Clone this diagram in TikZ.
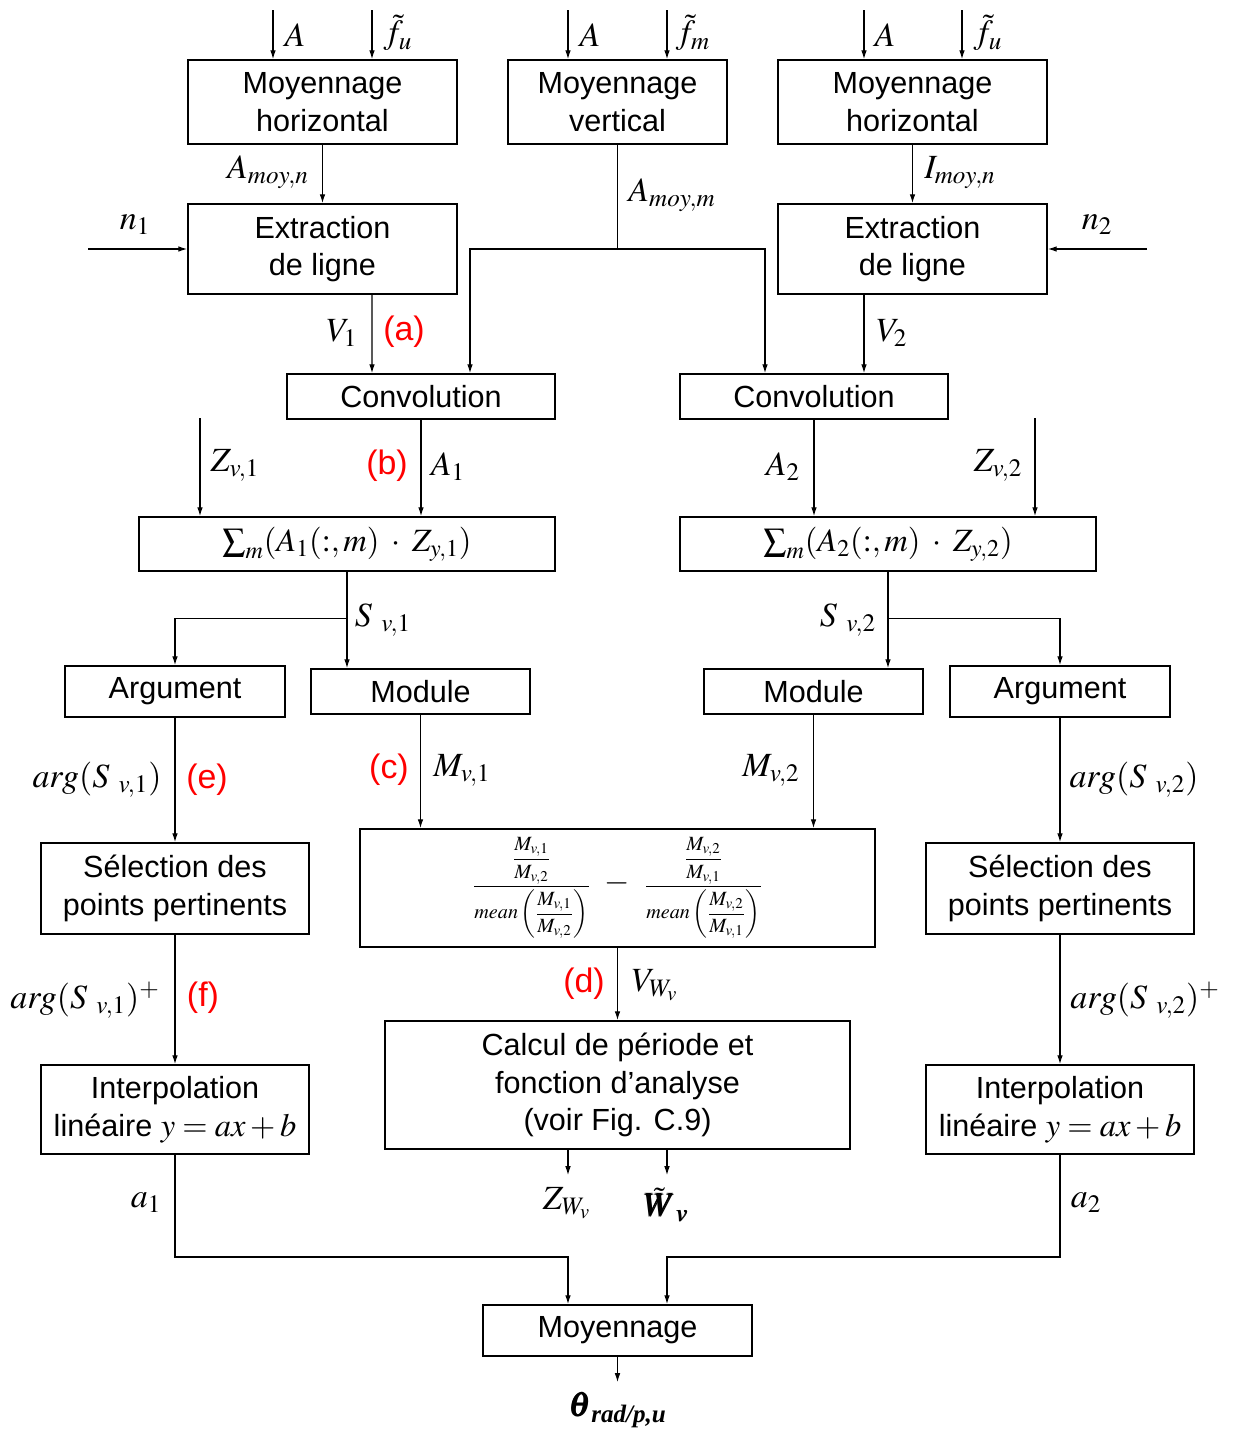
\documentclass[tikz,border=0pt]{standalone}
\usepackage{amsmath}
\usepackage{mathptmx}
\usepackage{bm}
\usepackage{fontspec}
\setmainfont{Liberation Sans}
\newfontfamily\serifbi{Liberation Serif}
\newcommand{\grand}{\fontsize{18.5}{21.5}\selectfont}
\newcommand{\petit}{\fontsize{11.5}{13}\selectfont}
\usetikzlibrary{arrows.meta,calc}

\begin{document}
\begin{tikzpicture}[x=0.02cm, y=-0.02cm,
    font=\fontsize{17.4}{21.5}\selectfont,
    bloc/.style={draw, line width=1.1pt, align=center, inner sep=0pt},
    fleche/.style={-{Latex[length=5pt,width=3.2pt]}, line width=0.6pt},
    trait/.style={line width=0.6pt},
    etiq/.style={inner sep=0pt, font=\fontsize{19.3}{23}\selectfont},
    rouge/.style={etiq, text=red}]
    \useasboundingbox (0,0) rectangle (1239,1431);

    % Blocs du haut
    \node[bloc, minimum width=5.38cm, minimum height=1.68cm] (mh1) at (322.5,102) {Moyennage\\horizontal};
    \node[bloc, minimum width=4.38cm, minimum height=1.68cm] (mv) at (617.5,102) {Moyennage\\vertical};
    \node[bloc, minimum width=5.38cm, minimum height=1.68cm] (mh2) at (912.5,102) {Moyennage\\horizontal};
    \node[bloc, minimum width=5.38cm, minimum height=1.80cm] (el1) at (322.5,249) {Extraction\\de ligne};
    \node[bloc, minimum width=5.38cm, minimum height=1.80cm] (el2) at (912.5,249) {Extraction\\de ligne};
    \node[bloc, minimum width=5.36cm, minimum height=0.90cm] (conv1) at (421,396.5) {Convolution};
    \node[bloc, minimum width=5.36cm, minimum height=0.90cm] (conv2) at (814,396.5) {Convolution};
    \node[bloc, minimum width=8.32cm, minimum height=1.08cm] (sum1) at (347,544) {\grand$\sum_m(A_1(:,m)\;\cdot\;Z_{y,1})$};
    \node[bloc, minimum width=8.32cm, minimum height=1.08cm] (sum2) at (888,544) {\grand$\sum_m(A_2(:,m)\;\cdot\;Z_{y,2})$};

    % Blocs du milieu
    \node[bloc, minimum width=4.40cm, minimum height=1.02cm] (arg1) at (175,691.5) {Argument};
    \node[bloc, minimum width=4.38cm, minimum height=0.90cm] (mod1) at (420.5,691.5) {Module};
    \node[bloc, minimum width=4.38cm, minimum height=0.90cm] (mod2) at (813.5,691.5) {Module};
    \node[bloc, minimum width=4.40cm, minimum height=1.02cm] (arg2) at (1060,691.5) {Argument};
    \node[bloc, minimum width=5.36cm, minimum height=1.82cm] (sel1) at (175,888.5) {Sélection des\\points pertinents};
    \node[bloc, minimum width=10.30cm, minimum height=2.36cm] (frac) at (617.5,888)
        {{\petit$\dfrac{\dfrac{M_{v,1}}{M_{v,2}}}{mean\left(\dfrac{M_{v,1}}{M_{v,2}}\right)}$}%
         \hspace{8pt}{\grand$-$}\hspace{8pt}%
         {\petit$\dfrac{\dfrac{M_{v,2}}{M_{v,1}}}{mean\left(\dfrac{M_{v,2}}{M_{v,1}}\right)}$}};
    \node[bloc, minimum width=5.36cm, minimum height=1.82cm] (sel2) at (1060,888.5) {Sélection des\\points pertinents};

    % Blocs du bas
    \node[bloc, minimum width=5.36cm, minimum height=1.78cm] (interp1) at (175,1109.5) {Interpolation\\linéaire {\grand$y=ax+b$}};
    \node[bloc, minimum width=9.30cm, minimum height=2.56cm] (calc) at (617.5,1085) {Calcul de période et\\fonction d’analyse\\(voir Fig. C.9)};
    \node[bloc, minimum width=5.36cm, minimum height=1.78cm] (interp2) at (1060,1109.5) {Interpolation\\linéaire {\grand$y=ax+b$}};
    \node[bloc, minimum width=5.38cm, minimum height=1.02cm] (moy) at (617.5,1330.5) {Moyennage};

    % Points libres
    \coordinate (e1) at (273,10);
    \coordinate (e2) at (372,10);
    \coordinate (e3) at (568,10);
    \coordinate (e4) at (667,10);
    \coordinate (e5) at (864,10);
    \coordinate (e6) at (962,10);
    \coordinate (n1) at (88,249);
    \coordinate (n2) at (1147,249);
    \coordinate (j) at (617.5,249);
    \coordinate (z1) at (200,418);
    \coordinate (z2) at (1035,418);
    \coordinate (oZ) at (568,1175);
    \coordinate (oW) at (667,1175);
    \coordinate (c1) at (568,1257);
    \coordinate (c2) at (667,1257);
    \coordinate (oT) at (617.5,1382);

    % Etiquettes
    \node[etiq] (lA1) at (295,35) {$A$};
    \node[etiq] (lf1) at (398,33) {$\tilde{f}_u$};
    \node[etiq] (lA2) at (590,35) {$A$};
    \node[etiq] (lf2) at (693,33) {$\tilde{f}_m$};
    \node[etiq] (lA3) at (885,35) {$A$};
    \node[etiq] (lf3) at (988,33) {$\tilde{f}_u$};
    \node[etiq] (lAmn) at (268,172) {$A_{moy,n}$};
    \node[etiq] (lImn) at (960,173) {$I_{moy,n}$};
    \node[etiq] (ln1) at (135,225) {$n_1$};
    \node[etiq] (ln2) at (1097,225) {$n_2$};
    \node[etiq] (lAmm) at (672,195) {$A_{moy,m}$};
    \node[etiq] (lV1) at (342,333) {$V_1$};
    \node[rouge] (la) at (404,332) {(a)};
    \node[etiq] (lV2) at (892,333) {$V_2$};
    \node[etiq] (lZ1) at (235,465) {$Z_{v,1}$};
    \node[rouge] (lb) at (387,466) {(b)};
    \node[etiq] (lA1b) at (448,467) {$A_1$};
    \node[etiq] (lA2b) at (783,467) {$A_2$};
    \node[etiq] (lZ2) at (998,465) {$Z_{v,2}$};
    \node[etiq] (lS1) at (383,620) {$S_{\ v,1}$};
    \node[etiq] (lS2) at (848,620) {$S_{\ v,2}$};
    \node[etiq] (larg1) at (97,780) {$arg(S_{\ v,1})$};
    \node[rouge] (le) at (207,780) {(e)};
    \node[rouge] (lc) at (389,770) {(c)};
    \node[etiq] (lM1) at (462,770) {$M_{v,1}$};
    \node[etiq] (lM2) at (771,770) {$M_{v,2}$};
    \node[etiq] (larg2) at (1134,780) {$arg(S_{\ v,2})$};
    \node[etiq] (largp1) at (85,1000) {$arg(S_{\ v,1})^+$};
    \node[rouge] (lf) at (203,998) {(f)};
    \node[etiq] (largp2) at (1145,1000) {$arg(S_{\ v,2})^+$};
    \node[rouge] (ld) at (584,984) {(d)};
    \node[etiq] (lVW) at (655,985) {$V_{W_v}$};
    \node[etiq] (lZW) at (567,1203) {$Z_{W_v}$};
    \node[etiq] (lW) at (666,1205) {$\bm{\tilde{W}_v}$};
    \node[etiq] (la1) at (146,1203) {$a_1$};
    \node[etiq] (la2) at (1086,1203) {$a_2$};
    \node[etiq] (lth) at (617.5,1410) {$\bm{\theta}_{\text{\serifbi\bfseries\itshape rad/p,u}}$};

    % Entrees
    \draw[fleche] (e1) -- (e1 |- mh1.north);
    \draw[fleche] (e2) -- (e2 |- mh1.north);
    \draw[fleche] (e3) -- (e3 |- mv.north);
    \draw[fleche] (e4) -- (e4 |- mv.north);
    \draw[fleche] (e5) -- (e5 |- mh2.north);
    \draw[fleche] (e6) -- (e6 |- mh2.north);
    \draw[fleche] (mh1) -- (el1);
    \draw[fleche] (mh2) -- (el2);
    \draw[fleche] (n1) -- (el1);
    \draw[fleche] (n2) -- (el2);

    % Vers les convolutions
    \draw[trait] (mv.south) -- (j);
    \draw[fleche] (j) -| ($(conv1.north)+(49,0)$);
    \draw[fleche] (j) -| ($(conv2.north)+(-49,0)$);
    \draw[fleche] ($(el1.south)+(49.5,0)$) -- ($(conv1.north)+(-49,0)$);
    \draw[fleche] ($(el2.south)+(-48.5,0)$) -- ($(conv2.north)+(50,0)$);

    % Sommes
    \draw[fleche] (z1) -- (z1 |- sum1.north);
    \draw[fleche] (z2) -- (z2 |- sum2.north);
    \draw[fleche] (conv1.south) -- (conv1.south |- sum1.north);
    \draw[fleche] (conv2.south) -- (conv2.south |- sum2.north);
    \draw[fleche] (sum1.south) -- ++(0,47) -| (arg1.north);
    \draw[fleche] (sum1.south) -- (sum1.south |- mod1.north);
    \draw[fleche] (sum2.south) -- ++(0,47) -| (arg2.north);
    \draw[fleche] (sum2.south) -- (sum2.south |- mod2.north);

    % Branches
    \draw[fleche] (arg1) -- (sel1);
    \draw[fleche] (arg2) -- (sel2);
    \draw[fleche] (mod1.south) -- (mod1.south |- frac.north);
    \draw[fleche] (mod2.south) -- (mod2.south |- frac.north);
    \draw[fleche] (sel1) -- (interp1);
    \draw[fleche] (sel2) -- (interp2);
    \draw[fleche] (frac) -- (calc);
    \draw[fleche] (calc.south -| oZ) -- (oZ);
    \draw[fleche] (calc.south -| oW) -- (oW);

    % Moyenne finale
    \draw[fleche] (interp1.south) |- (c1) -- (c1 |- moy.north);
    \draw[fleche] (interp2.south) |- (c2) -- (c2 |- moy.north);
    \draw[fleche] (moy.south) -- (oT);
\end{tikzpicture}
\end{document}
